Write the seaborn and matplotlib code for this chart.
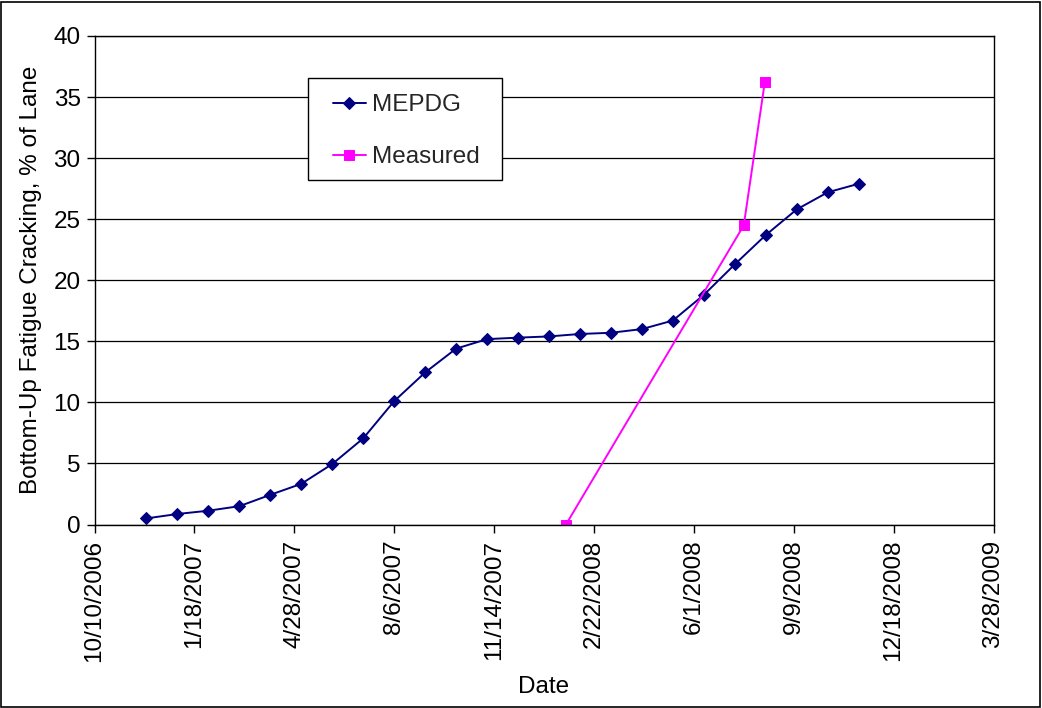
import matplotlib
matplotlib.use("Agg")
import matplotlib.pyplot as plt
from matplotlib.patches import Rectangle
import seaborn as sns
import pandas as pd

mepdg_dates = ["2006-12-01", "2007-01-01", "2007-02-01", "2007-03-04", "2007-04-04",
               "2007-05-05", "2007-06-05", "2007-07-06", "2007-08-06", "2007-09-06",
               "2007-10-07", "2007-11-07", "2007-12-08", "2008-01-08", "2008-02-08",
               "2008-03-10", "2008-04-10", "2008-05-11", "2008-06-11", "2008-07-12",
               "2008-08-12", "2008-09-12", "2008-10-13", "2008-11-13"]
mepdg_values = [0.5, 0.86, 1.13, 1.5, 2.43, 3.33, 4.95, 7.05, 10.1, 12.45,
                14.4, 15.18, 15.3, 15.4, 15.6, 15.7, 16.0, 16.7, 18.8, 21.3,
                23.7, 25.8, 27.2, 27.9]

measured_dates = ["2008-01-25", "2008-07-21", "2008-08-11"]
measured_values = [0.0, 24.5, 36.2]

tick_dates = ["2006-10-10", "2007-01-18", "2007-04-28", "2007-08-06", "2007-11-14",
              "2008-02-22", "2008-06-01", "2008-09-09", "2008-12-18", "2009-03-28"]
tick_labels = ["10/10/2006", "1/18/2007", "4/28/2007", "8/6/2007", "11/14/2007",
               "2/22/2008", "6/1/2008", "9/9/2008", "12/18/2008", "3/28/2009"]

sns.set_theme(style="white")
plt.rcParams['font.family'] = ['Liberation Sans', 'DejaVu Sans']
FS = 17.5

W, H = 1042, 708
L, R, T, B = 94.5, 993.5, 36, 524.5
fig = plt.figure(figsize=(W/100, H/100), dpi=100)
ax = fig.add_axes([L/W, 1-B/H, (R-L)/W, (B-T)/H])

def ax_frac(px, py):
    return ((px-L)/(R-L), (B-py)/(B-T))

df_m = pd.DataFrame({"date": pd.to_datetime(mepdg_dates), "value": mepdg_values})
df_s = pd.DataFrame({"date": pd.to_datetime(measured_dates), "value": measured_values})

sns.lineplot(data=df_m, x="date", y="value", ax=ax, color="#000080", marker="D",
             markersize=6.5, markeredgecolor="#000080", linewidth=1.4, label="MEPDG")
sns.lineplot(data=df_s, x="date", y="value", ax=ax, color="#FF00FF", marker="s",
             markersize=7, markeredgecolor="#FF00FF", linewidth=1.4, label="Measured")

ticks = pd.to_datetime(tick_dates)
ax.set_xlim(ticks[0], ticks[-1])
ax.set_xticks(ticks)
ax.set_xticklabels(tick_labels, rotation=90, fontsize=FS)
ax.set_ylim(0, 40)
ax.set_yticks(range(0, 41, 5))
ax.tick_params(axis='y', labelsize=FS, length=6, width=1, direction='out', left=True, colors='black', pad=4)
ax.tick_params(axis='x', length=6, width=1, direction='out', bottom=True, colors='black', pad=5)
ax.yaxis.grid(True, color='black', linewidth=0.9)
ax.xaxis.grid(False)
for s in ax.spines.values():
    s.set_color('black')
    s.set_linewidth(1.0)

ax.set_xlabel("Date", fontsize=FS, color='black', labelpad=10)
ax.set_ylabel("Bottom-Up Fatigue Cracking, % of Lane", fontsize=FS, color='black', labelpad=8)

leg = ax.legend(loc='upper left', bbox_to_anchor=ax_frac(333, 94),
                borderaxespad=0, borderpad=0, fontsize=FS, frameon=False,
                labelspacing=1.25, handlelength=1.35, handletextpad=0.25)

x0, y0 = ax_frac(308, 180)
x1, y1 = ax_frac(502, 78)
ax.add_patch(Rectangle((x0, y0), x1-x0, y1-y0, transform=ax.transAxes,
                       facecolor='white', edgecolor='black', linewidth=1.0, zorder=4))
leg.set_zorder(5)

fig.patches.append(Rectangle((1/W, 1/H), (W-3)/W, (H-3)/H, transform=fig.transFigure,
                             fill=False, edgecolor='black', linewidth=1.2))

fig.savefig("out.png", dpi=100)
